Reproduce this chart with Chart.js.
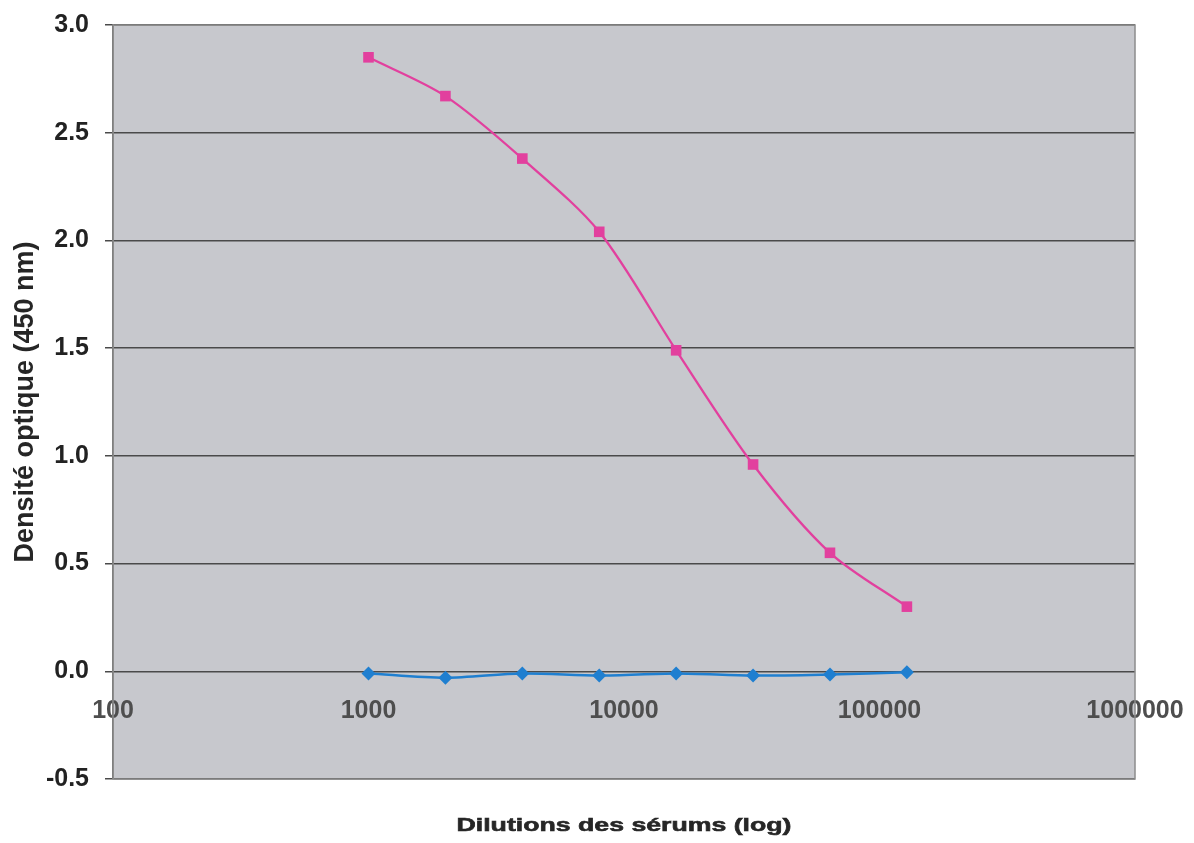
<!DOCTYPE html>
<html>
<head>
<meta charset="utf-8">
<script src="https://cdn.jsdelivr.net/npm/chart.js@4/dist/chart.umd.min.js"></script>
<style>
  html, body { margin: 0; padding: 0; background: #ffffff; }
  canvas { display: block; }
</style>
</head>
<body>
<canvas id="chart" width="1194" height="843"></canvas>
<script>
// Serum dilution factors (x, log scale)
const dilutions = [1000, 2000, 4000, 8000, 16000, 32000, 64000, 128000];
// Optical density at 450 nm
const serumImmun = [2.85, 2.67, 2.38, 2.04, 1.49, 0.96, 0.55, 0.30];
const serumControle = [-0.01, -0.03, -0.01, -0.02, -0.01, -0.02, -0.015, -0.005];
// Axis tick values
const xTicks = [100, 1000, 10000, 100000, 1000000];
const yTicks = [-0.5, 0.0, 0.5, 1.0, 1.5, 2.0, 2.5, 3.0];

const xTitle = 'Dilutions des sérums (log)';
const yTitle = 'Densité optique (450 nm)';

const toPoints = (ys) => dilutions.map((x, i) => ({ x: x, y: ys[i] }));

// Grey plot background, outer frame and the x-axis title
const plotFrame = {
  id: 'plotFrame',
  beforeDraw(chart) {
    const { ctx, chartArea: a } = chart;
    ctx.save();
    ctx.fillStyle = '#c7c8cd';
    ctx.fillRect(a.left, a.top, a.right - a.left, a.bottom - a.top);
    ctx.restore();
  },
  afterDatasetsDraw(chart) {
    const { ctx, chartArea: a } = chart;
    ctx.save();
    ctx.strokeStyle = '#8c8c8c';
    ctx.lineWidth = 1.5;
    ctx.strokeRect(a.left, a.top, a.right - a.left, a.bottom - a.top);
    ctx.restore();
  },
  afterDraw(chart) {
    const { ctx, chartArea: a } = chart;
    ctx.save();
    ctx.font = 'bold 19px "Liberation Sans", Arial, sans-serif';
    ctx.fillStyle = '#262626';
    ctx.textBaseline = 'middle';
    ctx.textAlign = 'center';
    const w = ctx.measureText(xTitle).width;
    const sx = 335 / w;
    ctx.translate((a.left + a.right) / 2, 826);
    ctx.scale(sx, 1);
    ctx.fillText(xTitle, 0, 0);
    ctx.lineWidth = 0.6;
    ctx.strokeStyle = '#262626';
    ctx.strokeText(xTitle, 0, 0);
    ctx.restore();
  }
};

new Chart(document.getElementById('chart'), {
  type: 'scatter',
  data: {
    datasets: [
      {
        label: 'Sérum immun',
        data: toPoints(serumImmun),
        showLine: true,
        borderColor: '#e2409e',
        backgroundColor: '#e2409e',
        borderWidth: 2.3,
        tension: 0.3,
        pointStyle: 'rect',
        pointRadius: 7.5,
        pointBorderWidth: 0
      },
      {
        label: 'Sérum contrôle',
        data: toPoints(serumControle),
        showLine: true,
        borderColor: '#1f7fd0',
        backgroundColor: '#1f7fd0',
        borderWidth: 2.5,
        tension: 0.3,
        pointStyle: 'rectRot',
        pointRadius: 7,
        pointBorderWidth: 0
      }
    ]
  },
  options: {
    responsive: false,
    animation: false,
    devicePixelRatio: 1,
    layout: { padding: { left: 0, right: 59, top: 25, bottom: 64 } },
    plugins: {
      legend: { display: false },
      tooltip: { enabled: false }
    },
    scales: {
      x: {
        type: 'logarithmic',
        position: { y: 0 },
        min: 100,
        max: 1000000,
        afterBuildTicks(scale) {
          scale.ticks = xTicks.map(v => ({ value: v, major: true }));
        },
        afterFit(scale) {
          scale.paddingLeft = 0;
          scale.paddingRight = 0;
        },
        grid: { display: false, drawTicks: false },
        border: { display: false },
        ticks: {
          padding: 25,
          maxRotation: 0,
          autoSkip: false,
          color: '#4e4e4e',
          font: { family: '"Liberation Sans", Arial, sans-serif', size: 25, weight: 'bold' },
          callback: (v) => String(v)
        }
      },
      y: {
        type: 'linear',
        min: -0.5,
        max: 3.0,
        afterFit(scale) {
          scale.width = 113;
          scale.paddingTop = 0;
          scale.paddingBottom = 0;
        },
        afterBuildTicks(scale) {
          scale.ticks = yTicks.map(v => ({ value: v }));
        },
        grid: {
          color: '#4a4a4a',
          lineWidth: 1.5,
          tickLength: 8,
          tickColor: '#4a4a4a'
        },
        border: { display: true, color: '#5a5a5a', width: 1.5 },
        ticks: {
          padding: 16,
          color: '#222222',
          font: { family: '"Liberation Sans", Arial, sans-serif', size: 25, weight: 'bold' },
          callback: (v) => Number(v).toFixed(1)
        },
        title: {
          display: true,
          text: yTitle,
          color: '#262626',
          padding: { top: 9, bottom: 0 },
          font: { family: '"Liberation Sans", Arial, sans-serif', size: 27, weight: 'bold' }
        }
      }
    }
  },
  plugins: [plotFrame]
});
</script>
</body>
</html>
